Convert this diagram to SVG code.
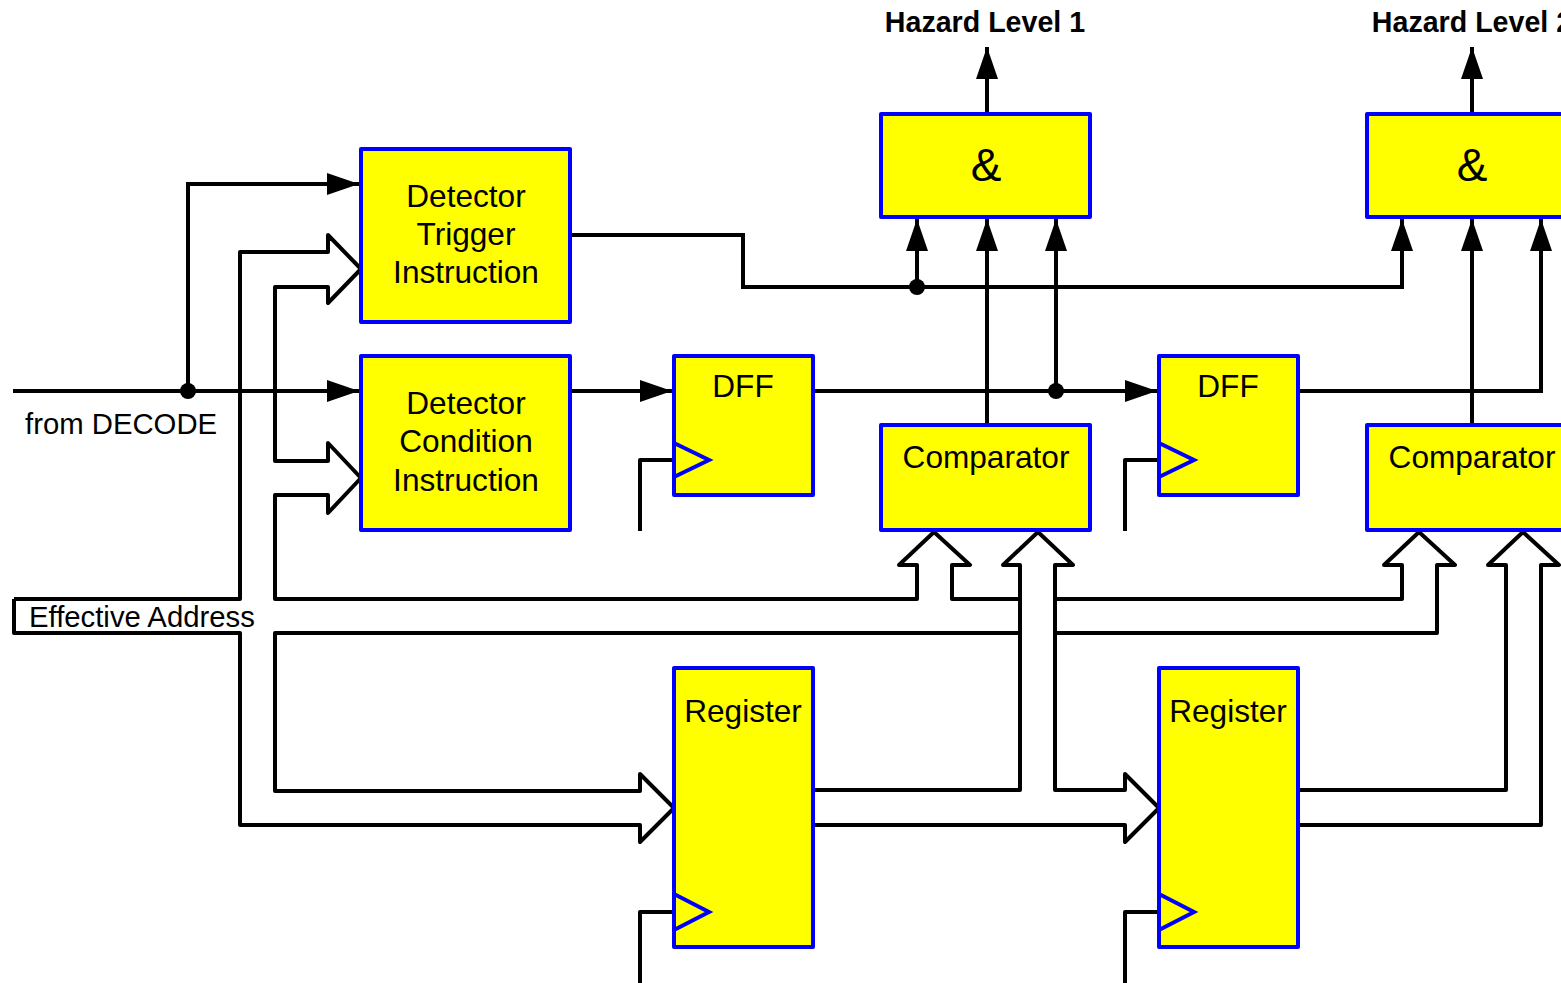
<svg xmlns="http://www.w3.org/2000/svg" width="1561" height="983" viewBox="0 0 1561 983">
<defs>
<style>
.box{fill:#FFFF00;stroke:#0000FF;stroke-width:4;stroke-linejoin:round}
.clk{fill:none;stroke:#0000FF;stroke-width:4;stroke-linejoin:miter}
.w{fill:none;stroke:#000;stroke-width:4;stroke-linejoin:round}
.wa{fill:none;stroke:#000;stroke-width:4;marker-end:url(#ah)}
.t{font-family:"Liberation Sans",Arial,sans-serif;font-size:31.6px;fill:#000;text-anchor:middle}
.lbl{font-family:"Liberation Sans",Arial,sans-serif;font-size:29.3px;fill:#000}
.hz{font-family:"Liberation Sans",Arial,sans-serif;font-size:28.6px;font-weight:bold;fill:#000;text-anchor:middle}
.amp{font-family:"Liberation Sans",Arial,sans-serif;font-size:46px;fill:#000;text-anchor:middle}
</style>
<marker id="ah" markerUnits="userSpaceOnUse" markerWidth="34" markerHeight="24" refX="32" refY="11" orient="auto">
<path d="M0,0 L32,11 L0,22 z" fill="#000"/>
</marker>
</defs>
<rect width="1561" height="983" fill="#fff"/>

<g id="connectors">
<!-- buses -->
<path class="w" d="M14,599 L240,599 L240,252 L328,252 L328,235 L361,269 L328,303 L328,287 L275,287 L275,461 L328,461 L328,443 L361,478 L328,513 L328,495 L275,495 L275,599 L917,599 L917,565 L899,565 L934,532 L970,565 L952,565 L952,599 L1020,599"/>
<path class="w" d="M1055,599 L1402,599 L1402,565 L1384,565 L1419,532 L1455,565 L1437,565 L1437,633 L1055,633"/>
<path class="w" d="M1020,633 L275,633 L275,791 L640,791 L640,774 L674,808 L640,842 L640,825 L240,825 L240,633 L14,633 L14,599"/>
<path class="w" d="M813,790 L1020,790 L1020,565 L1003,565 L1038,532 L1073,565 L1055,565 L1055,790 L1125,790 L1125,774 L1159,808 L1125,842 L1125,825 L813,825"/>
<path class="w" d="M1298,790 L1506,790 L1506,565 L1488,565 L1523,532 L1559,565 L1541,565 L1541,825 L1298,825"/>
<!-- signals -->
<path class="wa" d="M13,391 L359,391"/>
<path class="wa" d="M188,391 L188,184 L359,184"/>
<path class="wa" d="M570,391 L672,391"/>
<path class="wa" d="M813,391 L1157,391"/>
<path class="wa" d="M1298,391 L1541,391 L1541,219"/>
<path class="wa" d="M1056,391 L1056,219"/>
<path class="wa" d="M987,425 L987,219"/>
<path class="wa" d="M1472,425 L1472,219"/>
<path class="wa" d="M570,235 L743,235 L743,287 L1402,287 L1402,219"/>
<path class="wa" d="M917,287 L917,219"/>
<path class="wa" d="M987,114 L987,47"/>
<path class="wa" d="M1472,114 L1472,47"/>
<!-- clocks -->
<path class="w" d="M640,531 L640,460 L674,460"/>
<path class="w" d="M1125,531 L1125,460 L1159,460"/>
<path class="w" d="M640,983 L640,912 L674,912"/>
<path class="w" d="M1125,983 L1125,912 L1159,912"/>
<!-- junctions -->
<circle cx="188" cy="391" r="8" fill="#000"/>
<circle cx="917" cy="287" r="8" fill="#000"/>
<circle cx="1056" cy="391" r="8" fill="#000"/>
</g>

<g id="trigger">
<rect class="box" x="361" y="149" width="209" height="173"/>
<text class="t" x="466" y="207">Detector</text>
<text class="t" x="466" y="245">Trigger</text>
<text class="t" x="466" y="283">Instruction</text>
</g>
<g id="condition">
<rect class="box" x="361" y="356" width="209" height="174"/>
<text class="t" x="466" y="414">Detector</text>
<text class="t" x="466" y="452">Condition</text>
<text class="t" x="466" y="491">Instruction</text>
</g>
<g id="dff1">
<rect class="box" x="674" y="356" width="139" height="139"/>
<polyline class="clk" points="674,443 709,460 674,477"/>
<text class="t" x="743" y="397">DFF</text>
</g>
<g id="dff2">
<rect class="box" x="1159" y="356" width="139" height="139"/>
<polyline class="clk" points="1159,443 1194,460 1159,477"/>
<text class="t" x="1228" y="397">DFF</text>
</g>
<g id="and1">
<rect class="box" x="881" y="114" width="209" height="103"/>
<text class="amp" x="986" y="181">&amp;</text>
</g>
<g id="and2">
<rect class="box" x="1367" y="114" width="209" height="103"/>
<text class="amp" x="1472" y="181">&amp;</text>
</g>
<g id="comp1">
<rect class="box" x="881" y="425" width="209" height="105"/>
<text class="t" x="986" y="468">Comparator</text>
</g>
<g id="comp2">
<rect class="box" x="1367" y="425" width="209" height="105"/>
<text class="t" x="1472" y="468">Comparator</text>
</g>
<g id="reg1">
<rect class="box" x="674" y="668" width="139" height="279"/>
<polyline class="clk" points="674,894 709,912 674,930"/>
<text class="t" x="743" y="722">Register</text>
</g>
<g id="reg2">
<rect class="box" x="1159" y="668" width="139" height="279"/>
<polyline class="clk" points="1159,894 1194,912 1159,930"/>
<text class="t" x="1228" y="722">Register</text>
</g>
<g id="labels">
<text class="lbl" x="25" y="434">from DECODE</text>
<text class="lbl" x="29" y="627">Effective Address</text>
<text class="hz" x="985" y="32">Hazard Level 1</text>
<text class="hz" x="1472" y="32">Hazard Level 2</text>
</g>
</svg>
